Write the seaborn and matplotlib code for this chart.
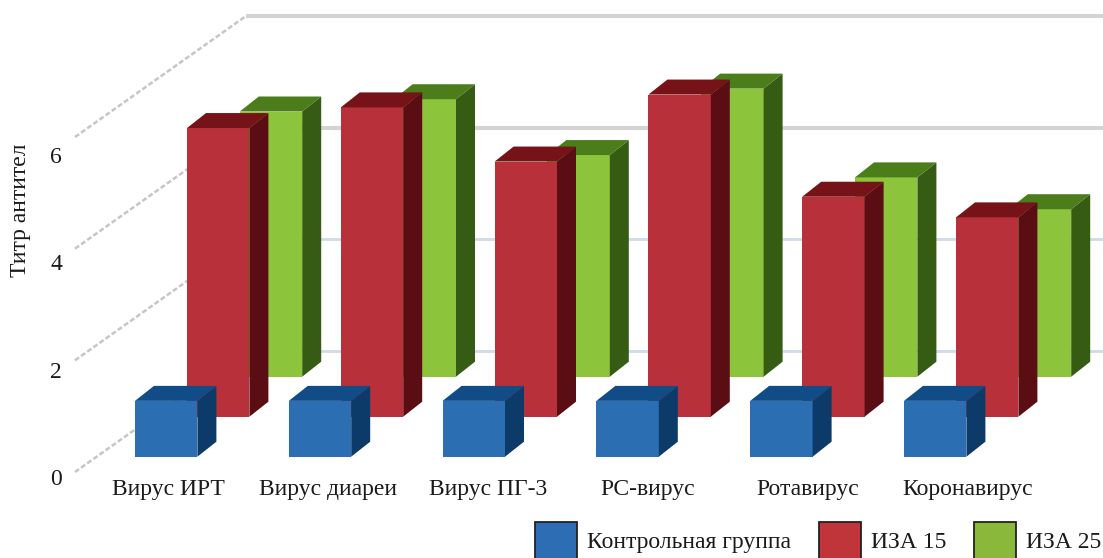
import numpy as np
import pandas as pd
import matplotlib
matplotlib.use("Agg")
import matplotlib.pyplot as plt
import seaborn as sns
from matplotlib.patches import Polygon, Patch

# ---------------- data ----------------
categories = ["Вирус ИРТ", "Вирус диареи", "Вирус ПГ-3", "РС-вирус", "Ротавирус", "Коронавирус"]
series_names = ["Контрольная группа", "ИЗА 15", "ИЗА 25"]
control = [1.0, 1.0, 1.0, 1.0, 1.0, 1.0]
iza15 = [5.17, 5.54, 4.57, 5.77, 3.94, 3.57]
iza25 = [4.75, 4.97, 3.97, 5.16, 3.57, 3.00]
y_ticks = [0, 2, 4, 6]
y_label = "Титр антител"

# ---------------- style ----------------
sns.set_theme(style="white")
plt.rcParams["font.family"] = ["Liberation Serif", "DejaVu Serif"]
TXT = "#1a1a1a"
FS = 17

front_cols = ["#2b6fb2", "#b8313a", "#8cc43c"]
top_cols = ["#124c86", "#761318", "#4b7d1b"]
side_cols = ["#0c3a69", "#5a0e14", "#365c13"]
legend_cols = ["#2d6db3", "#c0353a", "#8ab83b"]

W, H, DPI = 1103, 558, 100
fig = plt.figure(figsize=(W / DPI, H / DPI), dpi=DPI)
fig.patch.set_facecolor("white")


def px_axes(left, top, width, height, z):
    a = fig.add_axes([left / W, (H - top - height) / H, width / W, height / H])
    a.set_zorder(z)
    a.patch.set_alpha(0)
    return a

# ---------------- geometry (pixels) ----------------
CS = 153.8          # category spacing
UY = 55.83          # pixels per value unit
BAR_W = 62.4 / CS   # bar width in category units
EXT = (19.0, 15.0)  # depth extrusion of each box (px)
ROW_OFF = [(0.0, 0.0), (52.0, -40.0), (104.8, -80.0)]
X0_BLUE, BASE_BLUE = 166.2, 456.7
YMAX = 7

# ---------------- background grid (perspective floor & back wall) ----------------
bg = px_axes(0, 0, W, H, 0)
bg.set_xlim(0, W)
bg.set_ylim(H, 0)
bg.axis("off")
FRONT_X, BACK_X, FLOOR0, DEPTH_DY = 75, 246, 472, 121
for v in y_ticks:
    yf = FLOOR0 - v * UY
    yb = yf - DEPTH_DY
    col = "#d4d4d4" if v >= 4 else "#cfdbe8"
    lw = 3.0 if v >= 4 else 2.0
    bg.plot([FRONT_X, BACK_X], [yf, yb], color="#c6c6c6", lw=1.8,
            ls=(0, (2, 1)), solid_capstyle="butt")
    bg.plot([BACK_X, W], [yb, yb], color=col, lw=lw, solid_capstyle="butt")

# ---------------- bars: one axes per depth row ----------------
rows = [control, iza15, iza25]
order = [2, 1, 0]  # draw back row first
for k in order:
    dx, dy = ROW_OFF[k]
    left = X0_BLUE - 0.5 * CS + dx
    bottom_top = BASE_BLUE + dy
    ax = px_axes(left, bottom_top - YMAX * UY, 6 * CS, YMAX * UY, 1 + (2 - k))
    df = pd.DataFrame({"category": categories, "value": rows[k]})
    sns.barplot(data=df, x="category", y="value", ax=ax, color=front_cols[k],
                saturation=1, width=BAR_W, errorbar=None, linewidth=0,
                edgecolor="none")
    ax.set_xlim(-0.5, 5.5)
    ax.set_ylim(0, YMAX)
    ax.axis("off")
    ex, ey = EXT[0] / CS, EXT[1] / UY
    for p in list(ax.patches):
        x0, w, h = p.get_x(), p.get_width(), p.get_height()
        side = Polygon([(x0 + w, 0), (x0 + w + ex, ey), (x0 + w + ex, h + ey), (x0 + w, h)],
                       closed=True, facecolor=side_cols[k], edgecolor="none", clip_on=False)
        top = Polygon([(x0, h), (x0 + ex, h + ey), (x0 + w + ex, h + ey), (x0 + w, h)],
                      closed=True, facecolor=top_cols[k], edgecolor="none", clip_on=False)
        ax.add_patch(side)
        ax.add_patch(top)

# ---------------- labels axes (front plane) ----------------
LCS = 159.9
LX0 = 168.0
L0, L6 = 477.0, 155.0
lab = px_axes(LX0 - 0.5 * LCS, L6, 6 * LCS, L0 - L6, 10)
lab.set_xlim(-0.5, 5.5)
lab.set_ylim(0, 6)
for s in lab.spines.values():
    s.set_visible(False)
lab.set_xticks(range(len(categories)))
lab.set_xticklabels(categories, fontsize=FS, color=TXT)
lab.set_yticks(y_ticks)
lab.set_yticklabels([str(t) for t in y_ticks], fontsize=FS, color=TXT)
lab.tick_params(axis="x", length=0, pad=1.5)
lab.tick_params(axis="y", length=0, pad=(LX0 - 0.5 * LCS - 62) * 72 / DPI)
lab.set_ylabel(y_label, fontsize=FS, color=TXT, va="center")
lab.yaxis.set_label_coords((21 - (LX0 - 0.5 * LCS)) / (6 * LCS), (L0 - 210) / (L0 - L6))
lab.grid(False)

# ---------------- legend ----------------
handles = [Patch(facecolor=c, edgecolor="#222222", linewidth=1.3, label=n)
           for c, n in zip(legend_cols, series_names)]
fig.legend(handles=handles, loc="upper left", bbox_to_anchor=(534.7 / W, (H - 522) / H),
           ncol=3, frameon=False, fontsize=FS, handlelength=1.78, handleheight=2.04,
           handletextpad=0.45, columnspacing=1.15, borderpad=0, borderaxespad=0,
           labelcolor=TXT)

fig.savefig("out.png", dpi=DPI, facecolor="white")
